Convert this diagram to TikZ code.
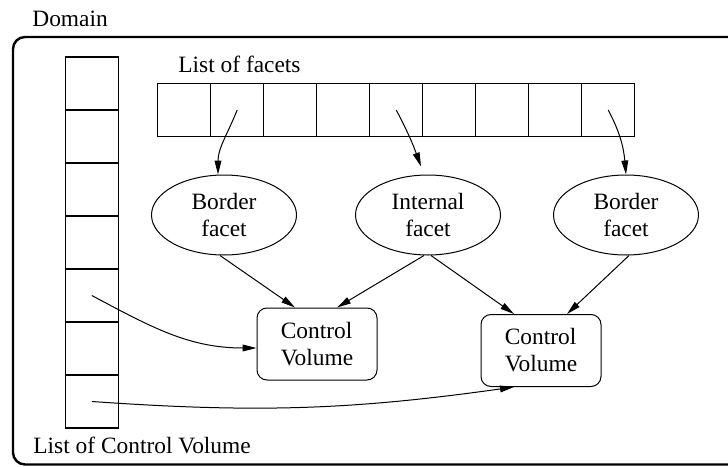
\documentclass[tikz,border=0pt]{standalone}
\usepackage{fontspec}
\setmainfont{Liberation Serif}
\usetikzlibrary{arrows.meta,positioning,shapes.geometric,calc}

\begin{document}
\begin{tikzpicture}[x=0.5pt, y=-0.5pt,
font=\fontsize{11.7}{13.5}\selectfont,
cell/.style={draw, line width=0.6pt, minimum size=26.5pt, inner sep=0pt},
facet/.style={draw, ellipse, align=center, line width=0.5pt, minimum width=72.5pt, minimum height=40pt, inner sep=0pt},
cvbox/.style={draw, rounded corners=5pt, align=left, line width=0.5pt, minimum width=60pt, minimum height=36pt, inner sep=0pt},
titletext/.style={anchor=base west, inner sep=0pt},
line/.style={-{Triangle[length=7pt,width=3.4pt]}, line width=0.5pt}
]
\useasboundingbox (0,0) rectangle (728,466);
\clip (0,0) rectangle (728,466);

% domain frame
\node[titletext] (domain) at (32,26) {Domain};
\draw[line width=1.2pt, rounded corners=6pt] (13,37) rectangle (745,464.5);

% the two lists
\node[titletext] (facetlist) at (178,72) {List of facets};
\foreach \i in {0,...,8}
  \node[cell] (f\i) at (184.2+53*\i,110) {};
\foreach \j in {0,...,6}
  \node[cell] (v\j) at (91.8,83.5+53*\j) {};
\node[titletext] (cvlist) at (33,453) {List of Control Volume};

% facets and control volumes
\node[facet] (bleft) at (224,215) {Border\\facet};
\node[facet] (inner) at (428,215) {Internal\\facet};
\node[facet] (bright) at (626,215) {Border\\facet};
\node[cvbox] (cvA) at (317,344) {Control\\Volume};
\node[cvbox] (cvB) at (541,350.5) {Control\\Volume};

\draw[line] (f1.center) to[out=-112, in=90] ([xshift=-3pt]bleft.north);
\draw[line] (f4.center) to[out=-62, in=110] ([xshift=-3.5pt, yshift=4pt]inner.north);
\draw[line] (f8.center) to[out=-62, in=95] (bright.north);

\draw[line] ([xshift=-2pt]bleft.south) -- ([xshift=-11pt]cvA.north);
\draw[line] ([xshift=-2pt]inner.south) -- ([xshift=10pt]cvA.north);
\draw[line] ([xshift=1.5pt]inner.south) -- ([xshift=-13.5pt]cvB.north);
\draw[line] ([xshift=1.5pt]bright.south) -- ([xshift=13pt]cvB.north);

\draw[line] (v4.center) to[out=-28, in=180] ([yshift=-2pt]cvA.west);
\draw[line] (v6.center) to[out=-4, in=188] ([xshift=-13.5pt]cvB.south);
\end{tikzpicture}
\end{document}
